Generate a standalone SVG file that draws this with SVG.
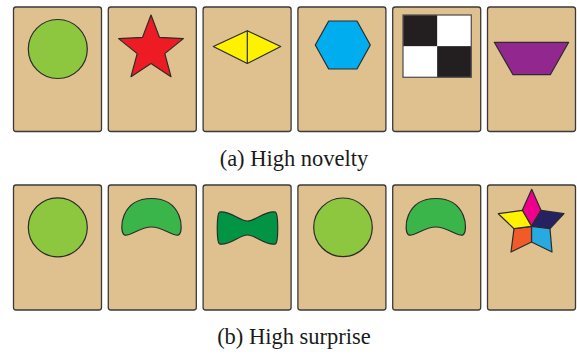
<svg xmlns="http://www.w3.org/2000/svg" width="577" height="354" viewBox="0 0 577 354">
<style>
.card{fill:#DEC18F;stroke:#3a3a3a;stroke-width:1.3}
.sh{stroke:#2b2b2b;stroke-width:1.2;stroke-linejoin:round}
.cap{font-size:22.5px;fill:#1a1a1a;text-anchor:middle}
</style>
<rect width="577" height="354" fill="#ffffff"/>
<g id="row-a">
<g id="a1"><rect class="card" x="13.5" y="7" width="88" height="124.5" rx="2.5"/><circle class="sh" cx="57.8" cy="49" r="29.5" fill="#8DC63F"/></g>
<g id="a2"><rect class="card" x="108.3" y="7" width="88" height="124.5" rx="2.5"/><polygon class="sh" fill="#ED1C24" points="151,15 159.5,37.4 183.4,38.6 164.8,53.6 171,76.7 151,63.6 131,76.7 137.2,53.6 118.6,38.6 142.5,37.4"/></g>
<g id="a3"><rect class="card" x="203.1" y="7" width="88" height="124.5" rx="2.5"/><polygon class="sh" fill="#FFF200" points="213.3,46.5 247.3,30.7 280.7,46.5 247.3,63.5"/><line class="sh" x1="247.3" y1="30.7" x2="247.3" y2="63.5"/></g>
<g id="a4"><rect class="card" x="297.9" y="7" width="88" height="124.5" rx="2.5"/><polygon class="sh" fill="#00AEEF" points="315.3,45 328.7,21 357,21 370.3,45 357,69 328.7,69"/></g>
<g id="a5"><rect class="card" x="392.7" y="7" width="88" height="124.5" rx="2.5"/><rect x="403" y="15" width="68.3" height="62.3" fill="#ffffff"/><rect x="403" y="15" width="34.15" height="31.15" fill="#231F20"/><rect x="437.15" y="46.15" width="34.15" height="31.15" fill="#231F20"/><rect x="403" y="15" width="68.3" height="62.3" fill="none" stroke="#555" stroke-width="1.3"/></g>
<g id="a6"><rect class="card" x="487.5" y="7" width="88" height="124.5" rx="2.5"/><polygon class="sh" fill="#92278F" points="494.3,42.3 568.7,42.3 550.3,74.7 513,74.7"/></g>
</g>
<text class="cap" x="294" y="166" font-family="'Liberation Serif', 'Times New Roman', 'DejaVu Serif', serif">(a) High novelty</text>
<g id="row-b">
<g id="b1"><rect class="card" x="13.5" y="185" width="88" height="125" rx="2.5"/><circle class="sh" cx="57.8" cy="227.3" r="29.5" fill="#8DC63F"/></g>
<g id="b2"><rect class="card" x="108.3" y="185" width="88" height="125" rx="2.5"/><path class="sh" fill="#39B54A" d="M124.5,235 C118.5,231 120.5,198.5 151.5,198.5 C182.5,198.5 184.5,231 178.5,235 C173.5,237 163.5,227 151.5,227 C139.5,227 129.5,237 124.5,235 Z"/></g>
<g id="b3"><rect class="card" x="203.1" y="185" width="88" height="125" rx="2.5"/><path class="sh" fill="#009444" d="M219.5,212 C229.5,210 239.5,221 247.5,221 C255.5,221 265.5,210 275.5,212 C278.5,214 278.5,242 275.5,244 C265.5,246 255.5,235 247.5,235 C239.5,235 229.5,246 219.5,244 C216.5,242 216.5,214 219.5,212 Z"/></g>
<g id="b4"><rect class="card" x="297.9" y="185" width="88" height="125" rx="2.5"/><circle class="sh" cx="343" cy="227.3" r="29.3" fill="#8DC63F"/></g>
<g id="b5"><rect class="card" x="392.7" y="185" width="88" height="125" rx="2.5"/><path class="sh" fill="#39B54A" d="M408.8,235 C402.8,231 404.8,198.5 435.8,198.5 C466.8,198.5 468.8,231 462.8,235 C457.8,237 447.8,227 435.8,227 C423.8,227 413.8,237 408.8,235 Z"/></g>
<g id="b6"><rect class="card" x="487.5" y="185" width="88" height="125" rx="2.5"/>
<polygon class="sh" fill="#EC008C" points="531.7,189.3 541,210.3 531.5,226.3 522.3,210.3"/>
<polygon class="sh" fill="#262262" points="541,210.3 564,213.7 550,228.7 531.5,226.3"/>
<polygon class="sh" fill="#27AAE1" points="531.5,226.3 550,228.7 552,252 531.5,242"/>
<polygon class="sh" fill="#F15A29" points="531.5,226.3 531.5,242 511,252 514,228.7"/>
<polygon class="sh" fill="#FFF200" points="522.3,210.3 531.5,226.3 514,228.7 498.3,213.7"/>
</g>
</g>
<text class="cap" x="294" y="344" font-family="'Liberation Serif', 'Times New Roman', 'DejaVu Serif', serif">(b) High surprise</text>
</svg>
